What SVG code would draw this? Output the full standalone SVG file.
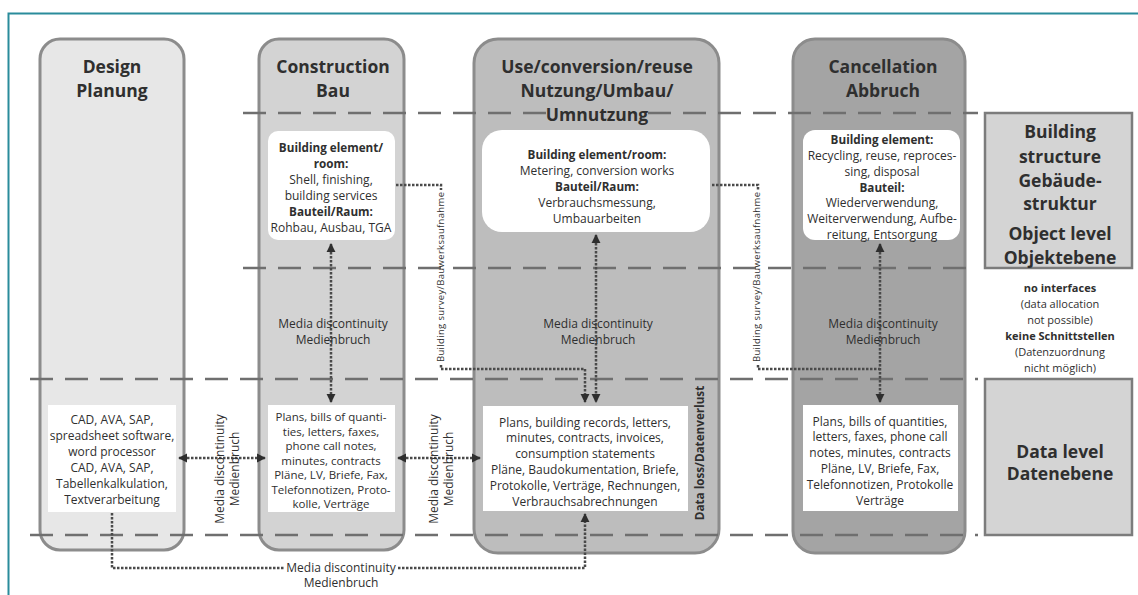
<svg xmlns="http://www.w3.org/2000/svg" width="1138" height="595" viewBox="0 0 1138 595">
<defs>
<marker id="ah" viewBox="0 0 10 10" refX="9" refY="5" markerWidth="9" markerHeight="10" markerUnits="userSpaceOnUse" orient="auto-start-reverse">
<path d="M0,0 L10,5 L0,10 z" fill="#2e2e2e"/>
</marker>
<style>
.col{stroke:#8c8c8c;stroke-width:3}
.lvl{fill:#d4d4d4;stroke:#7c7c7c;stroke-width:2.5}
.dash{stroke:#6f6f6f;stroke-width:2.5;stroke-dasharray:23 12;fill:none}
.wb{fill:#ffffff}
.dot{stroke:#4a4a4a;stroke-width:2.5;stroke-dasharray:2.5 1.5;fill:none}
text{font-family:"Open Sans","Liberation Sans",sans-serif;fill:#2f2f2f;text-anchor:middle}
.t{font-size:17.5px;font-weight:bold}
.b{font-size:12px}
.bs{font-size:11.5px}
.bb{font-size:11.7px;font-weight:bold}
.s{font-size:11px}
.sb{font-size:11px;font-weight:bold}
.sv{font-size:9.5px}
</style>
</defs>
<rect width="1138" height="595" fill="#ffffff"/>
<path d="M8.5,595 V13.5 H1138" fill="none" stroke="#2a8c9b" stroke-width="2"/>

<g id="col-design">
<rect class="col" x="40" y="39" width="144" height="511" rx="20" fill="#e7e7e7"/>
<text class="t" x="112" y="73">Design</text>
<text class="t" x="112" y="97">Planung</text>
</g>
<g id="col-construction">
<rect class="col" x="259" y="39" width="145" height="511" rx="20" fill="#d3d3d3"/>
<text class="t" x="333" y="73">Construction</text>
<text class="t" x="333" y="97">Bau</text>
</g>
<g id="col-use">
<rect class="col" x="474" y="39" width="245" height="514" rx="24" fill="#bdbdbd"/>
<text class="t" x="597" y="73">Use/conversion/reuse</text>
<text class="t" x="597" y="97">Nutzung/Umbau/</text>
<text class="t" x="597" y="121">Umnutzung</text>
</g>
<g id="col-cancellation">
<rect class="col" x="793" y="39" width="172" height="514" rx="22" fill="#a4a4a4"/>
<text class="t" x="883" y="73">Cancellation</text>
<text class="t" x="883" y="97">Abbruch</text>
</g>

<g id="level-lines">
<line class="dash" x1="243" y1="113" x2="547" y2="113"/>
<line class="dash" x1="648" y1="113" x2="978" y2="113"/>
<line class="dash" x1="243" y1="268" x2="978" y2="268"/>
<line class="dash" x1="30" y1="379" x2="978" y2="379"/>
<line class="dash" x1="30" y1="535" x2="978" y2="535"/>
</g>

<g id="level-object">
<rect class="lvl" x="985" y="113" width="147" height="155"/>
<text class="t" x="1060" y="138">Building</text>
<text class="t" x="1060" y="163">structure</text>
<text class="t" x="1060" y="187">Gebäude-</text>
<text class="t" x="1060" y="210">struktur</text>
<text class="t" x="1060" y="240">Object level</text>
<text class="t" x="1060" y="264">Objektebene</text>
</g>
<g id="level-data">
<rect class="lvl" x="985" y="379" width="147" height="156"/>
<text class="t" x="1060" y="458">Data level</text>
<text class="t" x="1060" y="480">Datenebene</text>
</g>
<g id="no-interfaces">
<text class="sb" x="1060" y="292">no interfaces</text>
<text class="s" x="1060" y="308">(data allocation</text>
<text class="s" x="1060" y="324">not possible)</text>
<text class="sb" x="1060" y="340">keine Schnittstellen</text>
<text class="s" x="1060" y="356">(Datenzuordnung</text>
<text class="s" x="1060" y="372">nicht möglich)</text>
</g>

<g id="obj-construction">
<rect class="wb" x="268" y="131" width="127" height="109" rx="10"/>
<text class="bb" x="331" y="152">Building element/</text>
<text class="bb" x="331" y="168">room:</text>
<text class="b" x="331" y="184">Shell, finishing,</text>
<text class="b" x="331" y="200">building services</text>
<text class="bb" x="331" y="216">Bauteil/Raum:</text>
<text class="b" x="331" y="232">Rohbau, Ausbau, TGA</text>
</g>
<g id="obj-use">
<rect class="wb" x="482" y="130" width="228" height="102" rx="20"/>
<text class="bb" x="597" y="159">Building element/room:</text>
<text class="b" x="597" y="175">Metering, conversion works</text>
<text class="bb" x="597" y="191">Bauteil/Raum:</text>
<text class="b" x="597" y="207">Verbrauchsmessung,</text>
<text class="b" x="597" y="223">Umbauarbeiten</text>
</g>
<g id="obj-cancellation">
<rect class="wb" x="803" y="130" width="157" height="110" rx="12"/>
<text class="bb" x="882" y="144">Building element:</text>
<text class="b" x="882" y="160">Recycling, reuse, reproces-</text>
<text class="b" x="882" y="176">sing, disposal</text>
<text class="bb" x="882" y="192">Bauteil:</text>
<text class="b" x="882" y="207">Wiederverwendung,</text>
<text class="b" x="882" y="223">Weiterverwendung, Aufbe-</text>
<text class="b" x="882" y="239">reitung, Entsorgung</text>
</g>

<g id="data-design">
<rect class="wb" x="48" y="405" width="128" height="107"/>
<text class="b" x="112" y="424">CAD, AVA, SAP,</text>
<text class="b" x="112" y="440">spreadsheet software,</text>
<text class="b" x="112" y="456">word processor</text>
<text class="b" x="112" y="472">CAD, AVA, SAP,</text>
<text class="b" x="112" y="488">Tabellenkalkulation,</text>
<text class="b" x="112" y="504">Textverarbeitung</text>
</g>
<g id="data-construction">
<rect class="wb" x="268" y="405" width="127" height="107"/>
<text class="bs" x="331" y="421">Plans, bills of quanti-</text>
<text class="bs" x="331" y="435.5">ties, letters, faxes,</text>
<text class="bs" x="331" y="450">phone call notes,</text>
<text class="bs" x="331" y="464.5">minutes, contracts</text>
<text class="bs" x="331" y="479">Pläne, LV, Briefe, Fax,</text>
<text class="bs" x="331" y="493.5">Telefonnotizen, Proto-</text>
<text class="bs" x="331" y="508">kolle, Verträge</text>
</g>
<g id="data-use">
<rect class="wb" x="483" y="406" width="205" height="105"/>
<text class="b" x="585" y="427">Plans, building records, letters,</text>
<text class="b" x="585" y="442">minutes, contracts, invoices,</text>
<text class="b" x="585" y="458">consumption statements</text>
<text class="b" x="585" y="474">Pläne, Baudokumentation, Briefe,</text>
<text class="b" x="585" y="490">Protokolle, Verträge, Rechnungen,</text>
<text class="b" x="585" y="506">Verbrauchsabrechnungen</text>
<text class="bb" transform="translate(704,453) rotate(-90)" x="0" y="0">Data loss/Datenverlust</text>
</g>
<g id="data-cancellation">
<rect class="wb" x="803" y="405" width="155" height="106"/>
<text class="b" x="880" y="426">Plans, bills of quantities,</text>
<text class="b" x="880" y="441">letters, faxes, phone call</text>
<text class="b" x="880" y="457">notes, minutes, contracts</text>
<text class="b" x="880" y="473">Pläne, LV, Briefe, Fax,</text>
<text class="b" x="880" y="489">Telefonnotizen, Protokolle</text>
<text class="b" x="880" y="505">Verträge</text>
</g>

<g id="connectors">
<line class="dot" x1="331" y1="244" x2="331" y2="402" marker-start="url(#ah)" marker-end="url(#ah)"/>
<line class="dot" x1="596" y1="235" x2="596" y2="402" marker-start="url(#ah)" marker-end="url(#ah)"/>
<line class="dot" x1="880" y1="244" x2="880" y2="402" marker-start="url(#ah)" marker-end="url(#ah)"/>
<path class="dot" d="M396,185 H441 V190"/>
<path class="dot" d="M441,365 V369 H585 V402" marker-end="url(#ah)"/>
<path class="dot" d="M712,185 H758 V190"/>
<path class="dot" d="M758,365 V369 H880"/>
<line class="dot" x1="179" y1="458" x2="265" y2="458" marker-start="url(#ah)" marker-end="url(#ah)"/>
<line class="dot" x1="398" y1="458" x2="480" y2="458" marker-start="url(#ah)" marker-end="url(#ah)"/>
<path class="dot" d="M112,513 V568 H284"/>
<path class="dot" d="M398,568 H585 V514" marker-end="url(#ah)"/>
</g>

<g id="connector-labels">
<text class="b" x="333" y="328">Media discontinuity</text>
<text class="b" x="333" y="344">Medienbruch</text>
<text class="b" x="598" y="328">Media discontinuity</text>
<text class="b" x="598" y="344">Medienbruch</text>
<text class="b" x="883" y="328">Media discontinuity</text>
<text class="b" x="883" y="344">Medienbruch</text>
<text class="b" transform="translate(224,469) rotate(-90)">Media discontinuity</text>
<text class="b" transform="translate(239,469) rotate(-90)">Medienbruch</text>
<text class="b" transform="translate(438,469) rotate(-90)">Media discontinuity</text>
<text class="b" transform="translate(453,469) rotate(-90)">Medienbruch</text>
<text class="b" x="341" y="572">Media discontinuity</text>
<text class="b" x="341" y="587">Medienbruch</text>
<text class="sv" transform="translate(444,277) rotate(-90)" textLength="170" lengthAdjust="spacing">Building survey/Bauwerksaufnahme</text>
<text class="sv" transform="translate(760,277) rotate(-90)" textLength="170" lengthAdjust="spacing">Building survey/Bauwerksaufnahme</text>
</g>
</svg>
